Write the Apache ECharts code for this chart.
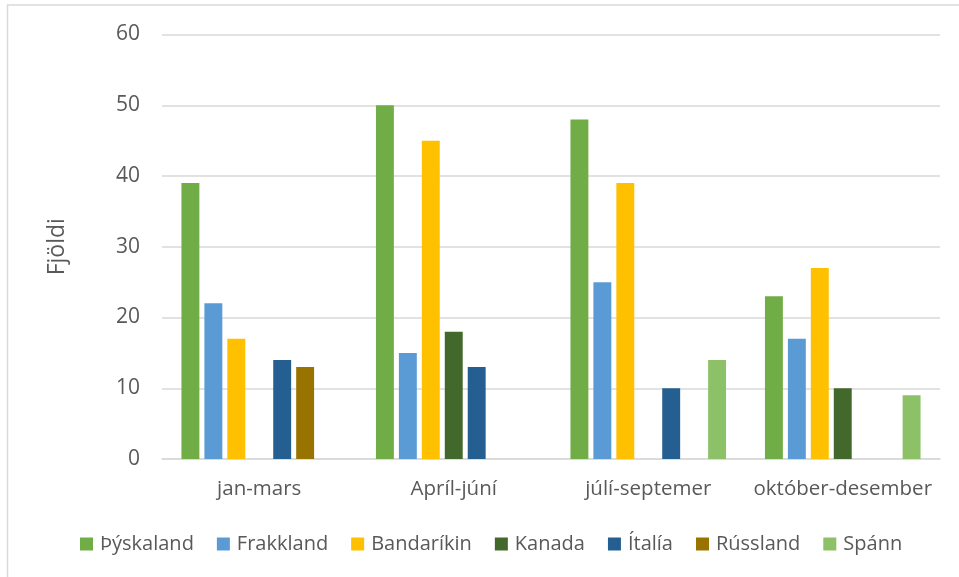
<!DOCTYPE html>
<html>
<head>
<meta charset="utf-8">
<script src="https://cdn.jsdelivr.net/npm/echarts@6/dist/echarts.min.js"></script>
<style>
  html, body { margin: 0; padding: 0; background: #ffffff; }
  #chart { width: 959px; height: 577px; }
</style>
</head>
<body>
<div id="chart"></div>
<script>
// Quarters on the category axis
const categories = ['jan-mars', 'Apríl-júní', 'júlí-septemer', 'október-desember'];

// Counts per country and quarter (null = no value)
const thyskaland = [39, 50, 48, 23];
const frakkland  = [22, 15, 25, 17];
const bandarikin = [17, 45, 39, 27];
const kanada     = [null, 18, null, 10];
const italia     = [14, 13, 10, null];
const russland   = [13, null, null, null];
const spann      = [null, null, 14, 9];

const yTicks = { min: 0, max: 60, interval: 10 };

const seriesDefs = [
  { name: 'Þýskaland', data: thyskaland, color: '#70AD47' },
  { name: 'Frakkland', data: frakkland,  color: '#5B9BD5' },
  { name: 'Bandaríkin', data: bandarikin, color: '#FFC000' },
  { name: 'Kanada',    data: kanada,     color: '#43682B' },
  { name: 'Ítalía',    data: italia,     color: '#255E91' },
  { name: 'Rússland',  data: russland,   color: '#997300' },
  { name: 'Spánn',     data: spann,      color: '#8CC168' }
];

const FONT = '"Open Sans", "Noto Sans", sans-serif';
const TEXT = '#595959';

const chart = echarts.init(document.getElementById('chart'), null, { renderer: 'canvas' });

chart.setOption({
  animation: false,
  backgroundColor: '#ffffff',
  graphic: [{
    type: 'rect',
    shape: { x: 7.5, y: 5, width: 1000, height: 600 },
    style: { fill: 'none', stroke: '#d9d9d9', lineWidth: 1.5 },
    silent: true
  }],
  grid: { left: 162, right: 19, top: 34.5, bottom: 118, containLabel: false },
  legend: {
    left: 80,
    top: 534,
    padding: 0,
    itemWidth: 13,
    itemHeight: 13,
    itemGap: 23,
    icon: 'rect',
    textStyle: { color: TEXT, fontSize: 20, fontFamily: FONT, padding: [0, 0, 0, 2] },
    data: seriesDefs.map(s => s.name)
  },
  xAxis: {
    type: 'category',
    data: categories,
    axisLine: { show: true, lineStyle: { color: '#d9d9d9', width: 1.5 } },
    axisTick: { show: false },
    axisLabel: { color: TEXT, fontSize: 20.5, fontFamily: FONT, margin: 20, interval: 0 }
  },
  yAxis: {
    type: 'value',
    min: yTicks.min,
    max: yTicks.max,
    interval: yTicks.interval,
    name: 'Fjöldi',
    nameLocation: 'middle',
    nameRotate: 90,
    nameGap: 93,
    nameTextStyle: { color: TEXT, fontSize: 23, fontFamily: FONT },
    axisLine: { show: false },
    axisTick: { show: false },
    axisLabel: { color: TEXT, fontSize: 21, fontFamily: FONT, margin: 22 },
    splitLine: { lineStyle: { color: '#d9d9d9', width: 1.5 } }
  },
  series: seriesDefs.map(s => ({
    name: s.name,
    type: 'bar',
    data: s.data,
    barGap: '28%',
    barCategoryGap: '20%',
    itemStyle: { color: s.color }
  }))
});
</script>
</body>
</html>
